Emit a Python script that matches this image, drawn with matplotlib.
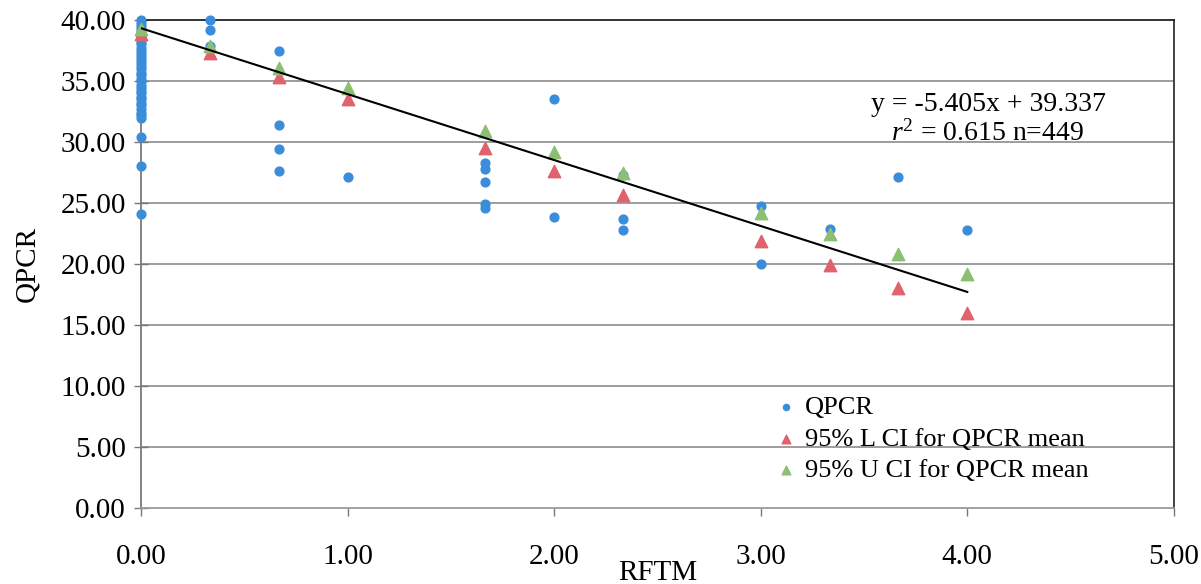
import matplotlib
matplotlib.use("Agg")
import matplotlib.pyplot as plt
import numpy as np

plt.rcParams['font.family'] = ['Liberation Serif', 'DejaVu Serif']
plt.rcParams['mathtext.fontset'] = 'custom'
plt.rcParams['mathtext.rm'] = 'Liberation Serif'
plt.rcParams['mathtext.it'] = 'Liberation Serif:italic'

# raw observations (RFTM, QPCR)
qpcr_x = [0.0] * 36 + [0.333] * 3 + [0.667] * 4 + [1.0] + [1.667] * 5 + [2.0] * 2 \
    + [2.333] * 3 + [3.0] * 2 + [3.333] + [3.667] + [4.0]
qpcr_y = [40.0, 39.8, 39.5, 39.3, 39.0, 38.8, 38.5, 38.2, 38.0, 37.7, 37.5, 37.2,
          37.0, 36.7, 36.5, 36.2, 36.0, 35.7, 35.5, 35.2, 35.0, 34.7, 34.4, 34.2,
          34.0, 33.7, 33.5, 33.2, 33.0, 32.7, 32.4, 32.2, 32.0, 30.4, 28.0, 24.1,
          40.0, 39.2, 37.9,
          37.5, 31.4, 29.4, 27.6,
          27.1,
          28.3, 27.8, 26.7, 24.9, 24.6,
          33.5, 23.9,
          27.3, 23.7, 22.8,
          24.8, 20.0,
          22.9,
          27.1,
          22.8]

# 95% confidence limits for the QPCR mean at each RFTM level
ci_x = [0.0, 0.333, 0.667, 1.0, 1.667, 2.0, 2.333, 3.0, 3.333, 3.667, 4.0]
ci_low = [38.9, 37.3, 35.3, 33.5, 29.5, 27.6, 25.7, 21.9, 19.9, 18.0, 16.0]
ci_up = [39.3, 37.9, 36.1, 34.4, 30.9, 29.2, 27.5, 24.2, 22.5, 20.8, 19.2]

slope, intercept = -5.405, 39.337
r2, n_obs = 0.615, 449

xticks = [0, 1, 2, 3, 4, 5]
yticks = [0, 5, 10, 15, 20, 25, 30, 35, 40]

fig = plt.figure(figsize=(12.01, 5.84), dpi=100)
ax = fig.add_axes([0.1174, 0.130, 0.860, 0.8356])

for yv in yticks[1:-1]:
    ax.axhline(yv, color='#8c8c8c', lw=1.2, zorder=0)

ax.scatter(qpcr_x, qpcr_y, s=40, color='#3a8ddb', label='QPCR', zorder=3,
           clip_on=False)
ax.scatter(ci_x, ci_low, s=80, marker='^', color='#e0626d',
           label='95% L CI for QPCR mean', zorder=3, clip_on=False)
ax.scatter(ci_x, ci_up, s=80, marker='^', color='#8dbf73',
           label='95% U CI for QPCR mean', zorder=3, clip_on=False)

fx = np.array([min(qpcr_x), max(qpcr_x)])
ax.plot(fx, slope * fx + intercept, color='black', lw=1.5, zorder=4)

ax.text(4.10, 33.1, 'y = %.3fx + %.3f' % (slope, intercept), ha='center',
        va='center', fontsize=20)
ax.text(4.10, 30.75, '$\\it{r}^2$ = %.3f n=%d' % (r2, n_obs), ha='center',
        va='center', fontsize=20)

ax.set_xlim(0, 5)
ax.set_ylim(0, 40)
ax.set_xticks(xticks)
ax.set_xticklabels(['%.2f' % v for v in xticks])
ax.set_yticks(yticks)
ax.set_yticklabels(['%.2f' % v for v in yticks])
ax.tick_params(axis='x', direction='out', length=6, width=1, color='#777777',
               labelsize=21, pad=20)
ax.tick_params(axis='y', direction='inout', length=10, width=1, color='#777777',
               labelsize=21, pad=6)

ax.spines['left'].set_color('#7a7a7a')
ax.spines['bottom'].set_color('#9a9a9a')
ax.spines['top'].set_color('#222222')
ax.spines['right'].set_color('#333333')
for s in ax.spines.values():
    s.set_linewidth(1.3)

ax.set_xlabel('RFTM', fontsize=21, va='center')
ax.xaxis.set_label_coords(0.5, -0.133)
ax.set_ylabel('QPCR', fontsize=21, va='center')
ax.yaxis.set_label_coords(-0.11, 0.5)

ax.legend(loc='upper left', bbox_to_anchor=(0.603, 0.252), frameon=False,
          fontsize=19, handlelength=0.9, handletextpad=0.25, labelspacing=0.3,
          borderaxespad=0, markerscale=0.7)

fig.savefig('out.png', dpi=100)
